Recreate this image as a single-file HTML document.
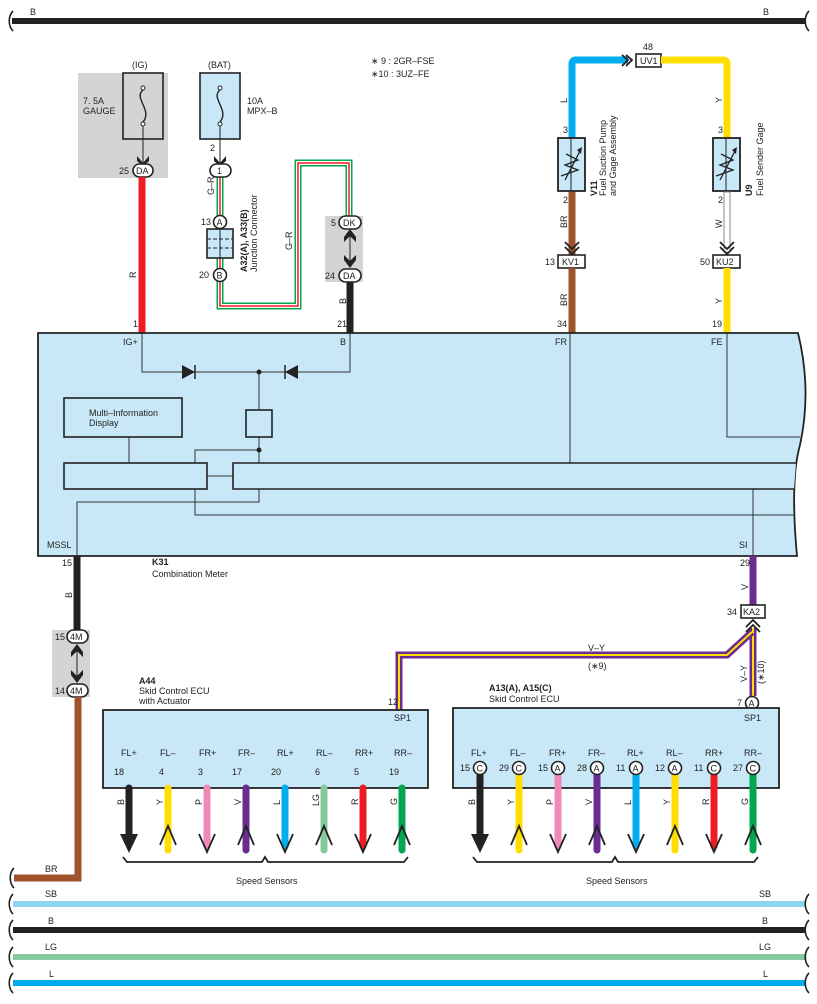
<!DOCTYPE html>
<html><head><meta charset="utf-8"><style>
html,body{margin:0;padding:0;background:#fff}
svg{display:block}
text{font-family:"Liberation Sans",Arial,sans-serif;font-size:9px;fill:#222}
.b{font-weight:bold}
</style></head><body>
<svg width="817" height="1004" viewBox="0 0 817 1004" xmlns="http://www.w3.org/2000/svg">
<defs>
<path id="sq" d="M0,-10 C-5,-5 -5,5 0,10" fill="none" stroke="#222" stroke-width="1.6"/>
</defs>
<line x1="12" y1="21" x2="806" y2="21" stroke="#222" stroke-width="6"/>
<use href="#sq" x="13" y="21"/><use href="#sq" x="809" y="21"/>
<text x="30" y="15">B</text><text x="763" y="15">B</text>

<text x="371" y="64">∗ 9 : 2GR–FSE</text>
<text x="371" y="77">∗10 : 3UZ–FE</text>

<rect x="78" y="73" width="90" height="105" fill="#d3d4d6"/>
<rect x="123" y="73" width="40" height="66" fill="#d3d4d6" stroke="#222" stroke-width="1.6"/>
<path d="M143,90 C133,98 153,110 143,122" fill="none" stroke="#222" stroke-width="1.4"/>
<circle cx="143" cy="88" r="2" fill="#fff" stroke="#222"/><circle cx="143" cy="124" r="2" fill="#fff" stroke="#222"/>
<line x1="143" y1="126" x2="143" y2="163" stroke="#222"/>
<path d="M137,156 L143,163 L149,156 L149,161 L143,166 L137,161Z" fill="#222"/>
<text x="132" y="68">(IG)</text>
<text x="83" y="104">7. 5A</text><text x="83" y="114">GAUGE</text>
<rect x="133" y="164" width="20" height="13" rx="6.5" fill="#fff" stroke="#222" stroke-width="1.6"/>
<text x="136" y="174">DA</text><text x="119" y="174">25</text>
<line x1="142" y1="177" x2="142" y2="333" stroke="#ed1c24" stroke-width="7"/>
<text transform="translate(136,278) rotate(-90)">R</text>
<text x="133" y="327">1</text>

<rect x="200" y="73" width="40" height="66" fill="#c8e8f8" stroke="#222" stroke-width="1.6"/>
<path d="M220,90 C210,98 230,110 220,122" fill="none" stroke="#222" stroke-width="1.4"/>
<circle cx="220" cy="88" r="2" fill="#fff" stroke="#222"/><circle cx="220" cy="124" r="2" fill="#fff" stroke="#222"/>
<line x1="220" y1="126" x2="220" y2="163" stroke="#222"/>
<path d="M214,156 L220,163 L226,156 L226,161 L220,166 L214,161Z" fill="#222"/>
<text x="208" y="68">(BAT)</text>
<text x="247" y="104">10A</text><text x="247" y="114">MPX–B</text>
<text x="210" y="151">2</text>
<g fill="none">
<path d="M220,177 V306 H298 V163 H349 V216" stroke="#00a650" stroke-width="7"/>
<path d="M220,177 V306 H298 V163 H349 V216" stroke="#fff" stroke-width="4"/>
<path d="M220,177 V306 H298 V163 H349 V216" stroke="#ed1c24" stroke-width="1.5"/>
</g>
<rect x="210" y="164" width="21" height="13" rx="6.5" fill="#fff" stroke="#222" stroke-width="1.6"/>
<text x="217" y="174">1</text>
<text transform="translate(214,195) rotate(-90)">G–R</text>
<text transform="translate(292,250) rotate(-90)">G–R</text>
<rect x="207" y="229" width="26" height="29" fill="#c8e8f8" stroke="#222" stroke-width="1.6"/>
<line x1="220" y1="229" x2="220" y2="258" stroke="#222"/>
<line x1="207" y1="239" x2="233" y2="239" stroke="#222" stroke-dasharray="4,2"/>
<line x1="207" y1="248" x2="233" y2="248" stroke="#222" stroke-dasharray="4,2"/>
<circle cx="220" cy="222" r="6.5" fill="#fff" stroke="#222" stroke-width="1.6"/><text x="216.5" y="225.5">A</text>
<circle cx="220" cy="275" r="6.5" fill="#fff" stroke="#222" stroke-width="1.6"/><text x="216.5" y="278.5">B</text>
<text x="201" y="225">13</text><text x="199" y="278">20</text>
<text class="b" transform="translate(247,272) rotate(-90)">A32(A), A33(B)</text>
<text transform="translate(257,272) rotate(-90)">Junction Connector</text>

<rect x="325" y="216" width="38" height="66" fill="#d3d4d6"/>
<line x1="350" y1="230" x2="350" y2="267" stroke="#222"/>
<path d="M344,237 L350,229 L356,237 L356,242 L350,236 L344,242Z" fill="#222"/>
<path d="M344,260 L350,268 L356,260 L356,255 L350,261 L344,255Z" fill="#222"/>
<rect x="339" y="216" width="22" height="13" rx="6.5" fill="#fff" stroke="#222" stroke-width="1.6"/><text x="343" y="226">DK</text>
<rect x="339" y="269" width="22" height="13" rx="6.5" fill="#fff" stroke="#222" stroke-width="1.6"/><text x="343" y="279">DA</text>
<text x="331" y="226">5</text><text x="325" y="279">24</text>
<line x1="350" y1="282" x2="350" y2="333" stroke="#222" stroke-width="7"/>
<text transform="translate(346,304) rotate(-90)">B</text>
<text x="337" y="327">21</text>

<path d="M572,138 V64 Q572,60 576,60 H628" fill="none" stroke="#00aeef" stroke-width="7"/>
<path d="M622,55 L628,60 L622,66 M626,55 L632,60 L626,66" fill="none" stroke="#222" stroke-width="1.8"/>
<rect x="636" y="54" width="25" height="13" fill="#fff" stroke="#222" stroke-width="1.6"/><text x="640" y="64">UV1</text>
<text x="643" y="50">48</text>
<path d="M661,60 H723 Q727,60 727,64 V138" fill="none" stroke="#ffdd00" stroke-width="7"/>
<text transform="translate(567,103) rotate(-90)">L</text>
<text transform="translate(722,103) rotate(-90)">Y</text>
<text x="563" y="133">3</text><text x="718" y="133">3</text>
<g>
<rect x="558" y="138" width="27" height="53" fill="#c8e8f8" stroke="#222" stroke-width="1.8"/>
<line x1="571" y1="138" x2="571" y2="191" stroke="#222"/>
<path d="M565,180 L580,151 M561,176 L578,170 L565,165 L578,160 L566,154" fill="none" stroke="#222" stroke-width="1.3"/>
<path d="M577,150 L582,147 L581,154Z" fill="#222"/>
<rect x="713" y="138" width="27" height="53" fill="#c8e8f8" stroke="#222" stroke-width="1.8"/>
<line x1="726" y1="138" x2="726" y2="191" stroke="#222"/>
<path d="M720,180 L735,151 M716,176 L733,170 L720,165 L733,160 L721,154" fill="none" stroke="#222" stroke-width="1.3"/>
<path d="M732,150 L737,147 L736,154Z" fill="#222"/>
</g>
<text class="b" transform="translate(597,196) rotate(-90)">V11</text>
<text transform="translate(606,196) rotate(-90)">Fuel Suction Pump</text>
<text transform="translate(616,196) rotate(-90)">and Gage Assembly</text>
<text class="b" transform="translate(752,196) rotate(-90)">U9</text>
<text transform="translate(763,196) rotate(-90)">Fuel Sender Gage</text>
<text x="563" y="203">2</text><text x="718" y="203">2</text>
<line x1="572" y1="192" x2="572" y2="255" stroke="#a0522d" stroke-width="7"/>
<path d="M565,242 L572,249 L579,242 M565,247 L572,254 L579,247" fill="none" stroke="#222" stroke-width="1.8"/>
<rect x="558" y="255" width="27" height="13" fill="#fff" stroke="#222" stroke-width="1.6"/><text x="562" y="265">KV1</text>
<text x="545" y="265">13</text>
<line x1="572" y1="268" x2="572" y2="333" stroke="#a0522d" stroke-width="7"/>
<text transform="translate(567,228) rotate(-90)">BR</text>
<text transform="translate(567,306) rotate(-90)">BR</text>
<text x="557" y="327">34</text>
<rect x="724" y="192" width="6" height="60" fill="#fff" stroke="#888" stroke-width="1"/>
<path d="M720,242 L727,249 L734,242 M720,247 L727,254 L734,247" fill="none" stroke="#222" stroke-width="1.8"/>
<rect x="713" y="255" width="27" height="13" fill="#fff" stroke="#222" stroke-width="1.6"/><text x="716" y="265">KU2</text>
<text x="700" y="265">50</text>
<line x1="727" y1="268" x2="727" y2="333" stroke="#ffdd00" stroke-width="7"/>
<text transform="translate(722,228) rotate(-90)">W</text>
<text transform="translate(722,304) rotate(-90)">Y</text>
<text x="712" y="327">19</text>

<path d="M38,333 H798 Q812,390 800,445 Q790,480 797,556 H38Z" fill="#c8e8f8" stroke="#222" stroke-width="1.8"/>
<text x="123" y="345">IG+</text><text x="340" y="345">B</text><text x="555" y="345">FR</text><text x="711" y="345">FE</text>
<text x="47" y="548">MSSL</text><text x="739" y="548">SI</text>
<g stroke="#333" fill="none" stroke-width="1">
<path d="M142,333 V372 H350 V333"/>
<path d="M259,372 V410"/>
<path d="M259,437 V463"/>
<path d="M259,450 H195 V463"/>
<path d="M129,437 V463"/>
<path d="M207,476 H233"/>
<path d="M195,489 V515 H795"/>
<path d="M259,489 V502 H77 V556"/>
<path d="M570,333 V463"/>
<path d="M727,333 V437 H800"/>
<path d="M753,489 V556"/>
</g>
<path d="M182,365 L195,372 L182,379Z" fill="#222"/><line x1="195" y1="365" x2="195" y2="379" stroke="#222" stroke-width="1.5"/>
<path d="M298,365 L285,372 L298,379Z" fill="#222"/><line x1="285" y1="365" x2="285" y2="379" stroke="#222" stroke-width="1.5"/>
<circle cx="259" cy="372" r="2.5" fill="#222"/><circle cx="259" cy="450" r="2.5" fill="#222"/>
<rect x="246" y="410" width="26" height="27" fill="#c8e8f8" stroke="#222" stroke-width="1.6"/>
<rect x="64" y="398" width="118" height="39" fill="#c8e8f8" stroke="#222" stroke-width="1.6"/>
<text x="89" y="416">Multi–Information</text><text x="89" y="426">Display</text>
<rect x="64" y="463" width="143" height="26" fill="#c8e8f8" stroke="#222" stroke-width="1.6"/>
<path d="M796,463 H233 V489 H794" fill="#c8e8f8" stroke="#222" stroke-width="1.6"/>

<text x="62" y="566">15</text>
<text class="b" x="152" y="565">K31</text><text x="152" y="577">Combination Meter</text>
<line x1="77" y1="556" x2="77" y2="630" stroke="#222" stroke-width="7"/>
<text transform="translate(72,598) rotate(-90)">B</text>
<rect x="52" y="630" width="38" height="67" fill="#d3d4d6"/>
<line x1="77" y1="645" x2="77" y2="682" stroke="#222"/>
<path d="M71,652 L77,644 L83,652 L83,657 L77,651 L71,657Z" fill="#222"/>
<path d="M71,675 L77,683 L83,675 L83,670 L77,676 L71,670Z" fill="#222"/>
<rect x="67" y="630" width="21" height="13" rx="6.5" fill="#fff" stroke="#222" stroke-width="1.6"/><text x="70" y="640">4M</text>
<rect x="67" y="684" width="21" height="13" rx="6.5" fill="#fff" stroke="#222" stroke-width="1.6"/><text x="70" y="694">4M</text>
<text x="55" y="640">15</text><text x="55" y="694">14</text>
<path d="M78,697 V878 H14" fill="none" stroke="#a0522d" stroke-width="7"/>
<use href="#sq" x="14" y="878"/>
<text x="45" y="872">BR</text>

<line x1="753" y1="556" x2="753" y2="605" stroke="#6a2c91" stroke-width="7"/>
<text x="740" y="566">29</text>
<text transform="translate(748,590) rotate(-90)">V</text>
<rect x="741" y="605" width="24" height="13" fill="#fff" stroke="#222" stroke-width="1.6"/><text x="743" y="615">KA2</text>
<text x="727" y="615">34</text>
<g fill="none">
<path d="M753,628 V696" stroke="#6a2c91" stroke-width="7"/>
<path d="M753,628 V696" stroke="#ffdd00" stroke-width="2"/>
<path d="M752,632 L727,655 H399 V710" stroke="#6a2c91" stroke-width="7" stroke-linejoin="miter"/>
<path d="M752,632 L727,655 H399 V710" stroke="#ffdd00" stroke-width="2"/>
</g>
<path d="M746,627 L753,620 L760,627 M746,632 L753,625 L760,632" fill="none" stroke="#222" stroke-width="1.8"/>
<text x="588" y="651">V–Y</text><text x="588" y="669">(∗9)</text>
<text transform="translate(747,682) rotate(-90)">V–Y</text>
<text transform="translate(764,684) rotate(-90)">(∗10)</text>

<text class="b" x="139" y="684">A44</text><text x="139" y="694">Skid Control ECU</text><text x="139" y="704">with Actuator</text>
<text x="388" y="705">12</text>
<rect x="103" y="710" width="325" height="78" fill="#c8e8f8" stroke="#222" stroke-width="1.8"/>
<text x="394" y="721">SP1</text>
<text class="b" x="489" y="691">A13(A), A15(C)</text><text x="489" y="702">Skid Control ECU</text>
<circle cx="752" cy="703" r="6.5" fill="#fff" stroke="#222" stroke-width="1.6"/><text x="748.5" y="706.5">A</text>
<text x="737" y="706">7</text>
<rect x="453" y="708" width="326" height="80" fill="#c8e8f8" stroke="#222" stroke-width="1.8"/>
<text x="744" y="721">SP1</text>

<g>
<text x="121" y="756">FL+</text><text x="160" y="756">FL–</text><text x="199" y="756">FR+</text><text x="238" y="756">FR–</text>
<text x="277" y="756">RL+</text><text x="316" y="756">RL–</text><text x="355" y="756">RR+</text><text x="394" y="756">RR–</text>
<text x="114" y="775">18</text><text x="159" y="775">4</text><text x="198" y="775">3</text><text x="232" y="775">17</text>
<text x="271" y="775">20</text><text x="315" y="775">6</text><text x="354" y="775">5</text><text x="389" y="775">19</text>
<text x="471" y="756">FL+</text><text x="510" y="756">FL–</text><text x="549" y="756">FR+</text><text x="588" y="756">FR–</text>
<text x="627" y="756">RL+</text><text x="666" y="756">RL–</text><text x="705" y="756">RR+</text><text x="744" y="756">RR–</text>
</g>
<g stroke-linecap="round" stroke-width="7" fill="none">
<line x1="129" y1="788" x2="129" y2="840" stroke="#222"/>
<line x1="168" y1="788" x2="168" y2="850" stroke="#ffdd00"/>
<line x1="207" y1="788" x2="207" y2="846" stroke="#f088b8"/>
<line x1="246" y1="788" x2="246" y2="850" stroke="#6a2c91"/>
<line x1="285" y1="788" x2="285" y2="846" stroke="#00aeef"/>
<line x1="324" y1="788" x2="324" y2="850" stroke="#85c99d"/>
<line x1="363" y1="788" x2="363" y2="846" stroke="#ed1c24"/>
<line x1="402" y1="788" x2="402" y2="850" stroke="#00a650"/>
<line x1="480" y1="775" x2="480" y2="840" stroke="#222"/>
<line x1="519" y1="775" x2="519" y2="850" stroke="#ffdd00"/>
<line x1="558" y1="775" x2="558" y2="846" stroke="#f088b8"/>
<line x1="597" y1="775" x2="597" y2="850" stroke="#6a2c91"/>
<line x1="636" y1="775" x2="636" y2="846" stroke="#00aeef"/>
<line x1="675" y1="775" x2="675" y2="850" stroke="#ffdd00"/>
<line x1="714" y1="775" x2="714" y2="846" stroke="#ed1c24"/>
<line x1="753" y1="775" x2="753" y2="850" stroke="#00a650"/>
</g>
<g fill="none" stroke="#222" stroke-width="1.8">
<path d="M160,845 L168,826 L176,845"/><path d="M238,845 L246,826 L254,845"/><path d="M316,845 L324,826 L332,845"/><path d="M394,845 L402,826 L410,845"/>
<path d="M199,834 L207,852 L215,834"/><path d="M277,834 L285,852 L293,834"/><path d="M355,834 L363,852 L371,834"/>
<path d="M511,845 L519,826 L527,845"/><path d="M589,845 L597,826 L605,845"/><path d="M667,845 L675,826 L683,845"/><path d="M745,845 L753,826 L761,845"/>
<path d="M550,834 L558,852 L566,834"/><path d="M628,834 L636,852 L644,834"/><path d="M706,834 L714,852 L722,834"/>
<path d="M123,857 L127,862 H262 L265,857 L268,862 H404 L408,857"/>
<path d="M473,857 L477,862 H612 L615,857 L618,862 H754 L758,857"/>
</g>
<path d="M120,834 L129,853 L138,834Z" fill="#222"/>
<path d="M471,834 L480,853 L489,834Z" fill="#222"/>
<g>
<text transform="translate(124,805) rotate(-90)">B</text><text transform="translate(163,805) rotate(-90)">Y</text>
<text transform="translate(202,805) rotate(-90)">P</text><text transform="translate(241,805) rotate(-90)">V</text>
<text transform="translate(280,805) rotate(-90)">L</text><text transform="translate(319,806) rotate(-90)">LG</text>
<text transform="translate(358,805) rotate(-90)">R</text><text transform="translate(397,805) rotate(-90)">G</text>
<text transform="translate(475,805) rotate(-90)">B</text><text transform="translate(514,805) rotate(-90)">Y</text>
<text transform="translate(553,805) rotate(-90)">P</text><text transform="translate(592,805) rotate(-90)">V</text>
<text transform="translate(631,805) rotate(-90)">L</text><text transform="translate(670,805) rotate(-90)">Y</text>
<text transform="translate(709,805) rotate(-90)">R</text><text transform="translate(748,805) rotate(-90)">G</text>
</g>
<g>
<circle cx="480" cy="768" r="6.5" fill="#fff" stroke="#222" stroke-width="1.6"/><text x="476.5" y="771.5">C</text>
<circle cx="519" cy="768" r="6.5" fill="#fff" stroke="#222" stroke-width="1.6"/><text x="515.5" y="771.5">C</text>
<circle cx="558" cy="768" r="6.5" fill="#fff" stroke="#222" stroke-width="1.6"/><text x="554.5" y="771.5">A</text>
<circle cx="597" cy="768" r="6.5" fill="#fff" stroke="#222" stroke-width="1.6"/><text x="593.5" y="771.5">A</text>
<circle cx="636" cy="768" r="6.5" fill="#fff" stroke="#222" stroke-width="1.6"/><text x="632.5" y="771.5">A</text>
<circle cx="675" cy="768" r="6.5" fill="#fff" stroke="#222" stroke-width="1.6"/><text x="671.5" y="771.5">A</text>
<circle cx="714" cy="768" r="6.5" fill="#fff" stroke="#222" stroke-width="1.6"/><text x="710.5" y="771.5">C</text>
<circle cx="753" cy="768" r="6.5" fill="#fff" stroke="#222" stroke-width="1.6"/><text x="749.5" y="771.5">C</text>
<text x="460" y="771">15</text><text x="499" y="771">29</text><text x="538" y="771">15</text><text x="577" y="771">28</text>
<text x="616" y="771">11</text><text x="655" y="771">12</text><text x="694" y="771">11</text><text x="733" y="771">27</text>
</g>
<text x="236" y="884">Speed Sensors</text>
<text x="586" y="884">Speed Sensors</text>

<line x1="13" y1="904" x2="806" y2="904" stroke="#8fd5f3" stroke-width="6"/>
<line x1="13" y1="930" x2="806" y2="930" stroke="#222" stroke-width="6"/>
<line x1="13" y1="957" x2="806" y2="957" stroke="#85c99d" stroke-width="6"/>
<line x1="13" y1="983" x2="806" y2="983" stroke="#00aeef" stroke-width="6"/>
<use href="#sq" x="13" y="904"/><use href="#sq" x="809" y="904"/>
<use href="#sq" x="13" y="930"/><use href="#sq" x="809" y="930"/>
<use href="#sq" x="13" y="957"/><use href="#sq" x="809" y="957"/>
<use href="#sq" x="13" y="983"/><use href="#sq" x="809" y="983"/>
<text x="45" y="897">SB</text><text x="759" y="897">SB</text>
<text x="48" y="924">B</text><text x="762" y="924">B</text>
<text x="45" y="950">LG</text><text x="759" y="950">LG</text>
<text x="49" y="977">L</text><text x="763" y="977">L</text>
</svg>
</body></html>
